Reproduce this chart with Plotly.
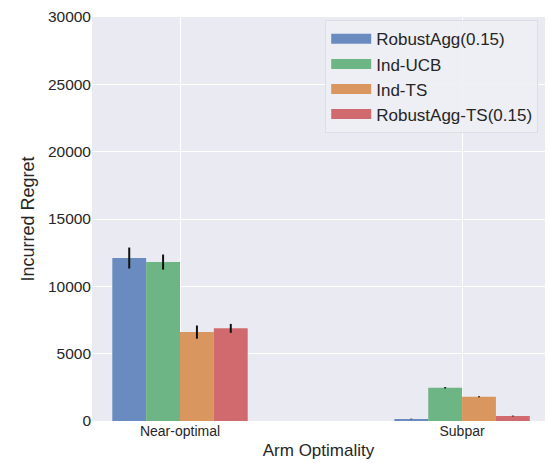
import plotly.graph_objects as go

categories = ["Near-optimal", "Subpar"]
series_names = ["RobustAgg(0.15)", "Ind-UCB", "Ind-TS", "RobustAgg-TS(0.15)"]
values = [
    [12100, 150],
    [11800, 2470],
    [6600, 1800],
    [6880, 370],
]
errors = [
    [780, 20],
    [560, 50],
    [490, 40],
    [330, 30],
]
colors = ["#6A8BBF", "#6DB585", "#D9965F", "#D06A6E"]
y_ticks = [0, 5000, 10000, 15000, 20000, 25000, 30000]

fig = go.Figure()
for name, vals, errs, col in zip(series_names, values, errors, colors):
    fig.add_trace(go.Bar(
        x=categories, y=vals, name=name, showlegend=False,
        marker=dict(color=col, line=dict(width=0)),
        error_y=dict(type="data", array=errs, color="#111111", thickness=2, width=0),
        width=0.12,
    ))
# legend proxies (wide rectangular patches like the reference)
for name, col in zip(series_names, colors):
    fig.add_trace(go.Scatter(
        x=[None], y=[None], mode="lines", name=name,
        line=dict(color=col, width=12),
    ))

fig.update_layout(
    width=550, height=463,
    margin=dict(l=92, r=5, t=17, b=42),
    paper_bgcolor="white",
    plot_bgcolor="#EAEAF2",
    barmode="group",
    bargap=0.52,
    bargroupgap=0,
    font=dict(family="Liberation Sans, Arial, sans-serif", color="#262626", size=13),
    legend=dict(
        x=0.985, y=0.992, xanchor="right", yanchor="top",
        bgcolor="rgba(238,238,245,0.9)", bordercolor="#DDDDE6", borderwidth=1,
        font=dict(size=17), tracegroupgap=0, itemwidth=40,
    ),
    xaxis=dict(
        title=dict(text="Arm Optimality", font=dict(size=17), standoff=6),
        range=[-0.312, 1.294], showgrid=True, gridcolor="white", gridwidth=1,
        ticks="", zeroline=False, tickfont=dict(size=14),
    ),
    yaxis=dict(
        title=dict(text="Incurred Regret", font=dict(size=18), standoff=8),
        range=[0, 30000], tickvals=y_ticks, tickformat="d", showgrid=True,
        gridcolor="white", gridwidth=1, ticks="", zeroline=False,
        tickfont=dict(size=15.5),
    ),
)
fig.write_html("out.html")
